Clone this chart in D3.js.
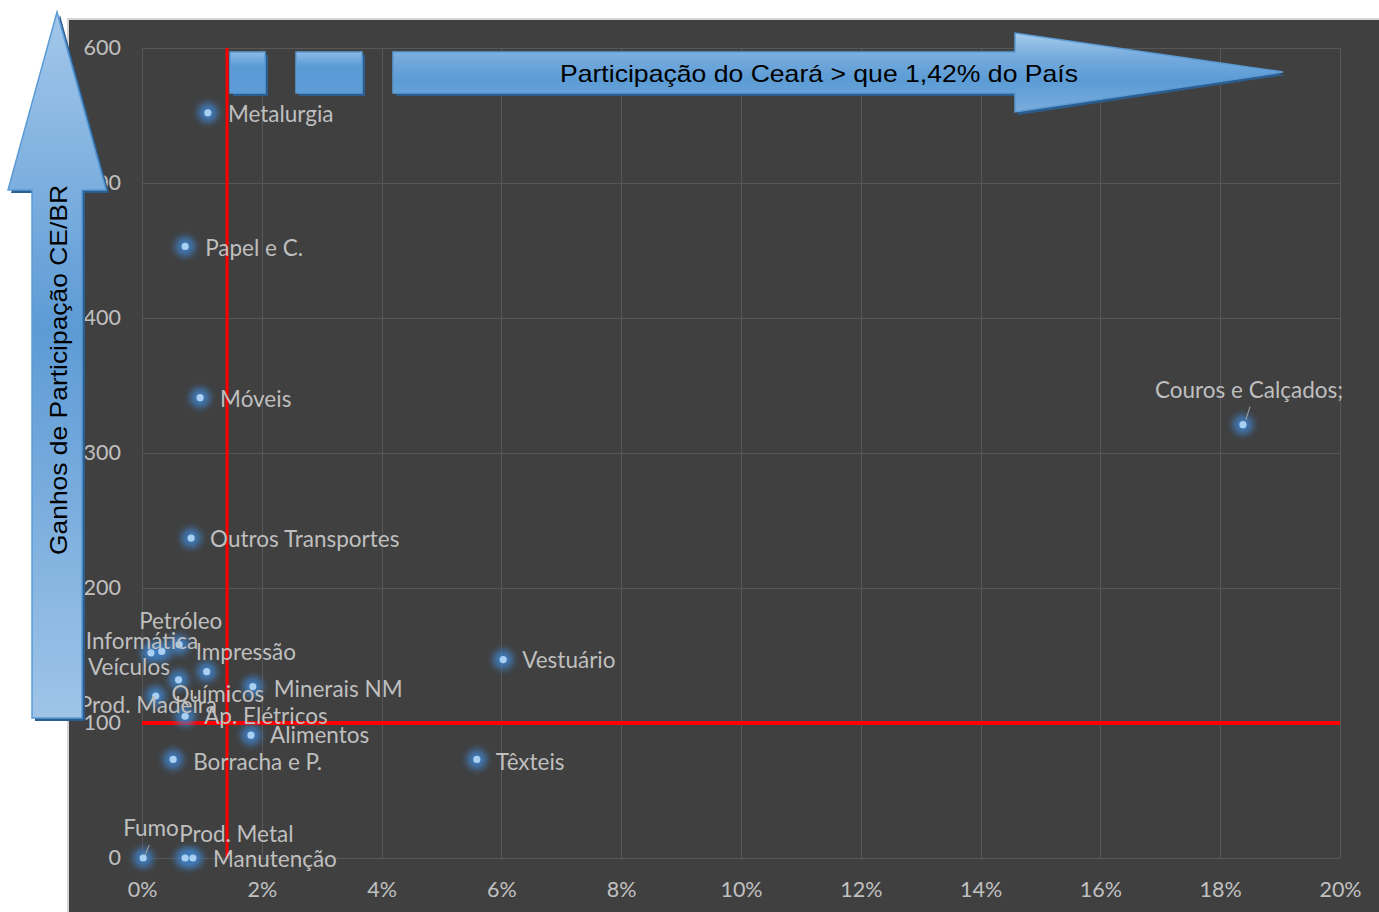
<!DOCTYPE html>
<html>
<head>
<meta charset="utf-8">
<script src="https://cdn.jsdelivr.net/npm/d3@7"></script>
<style>
  html, body { margin: 0; padding: 0; background: #ffffff; }
  svg { display: block; }
</style>
</head>
<body>
<svg id="chart" width="1379" height="912"></svg>
<script>
// Sectors: share of Ceará in national production (x) vs. gains in share CE/BR (y)
const sectors = [
  "Metalurgia", "Papel e C.", "Móveis", "Outros Transportes", "Couros e Calçados;",
  "Vestuário", "Têxteis", "Alimentos", "Borracha e P.", "Minerais NM",
  "Impressão", "Petróleo", "Informática", "Veículos", "Químicos",
  "Prod. Madeira", "Ap. Elétricos", "Fumo", "Prod. Metal", "Manutenção"
];
const participation = [
  0.0110, 0.0072, 0.0097, 0.0082, 0.1838,
  0.0603, 0.0559, 0.0182, 0.0052, 0.0185,
  0.0108, 0.0062, 0.0033, 0.0015, 0.0061,
  0.0023, 0.0072, 0.0002, 0.0072, 0.0085
];
const gains = [
  552, 453, 341, 237, 321,
  147, 73, 91, 73, 127,
  138, 158, 153, 152, 132,
  120, 105, 0, 0, 0
];
const xTicks = [0, 0.02, 0.04, 0.06, 0.08, 0.10, 0.12, 0.14, 0.16, 0.18, 0.20];
const yTicks = [0, 100, 200, 300, 400, 500, 600];
const thresholdX = 0.0142;   // Ceará share of the country
const thresholdY = 100;      // gain reference level
const xArrowText = "Participação do Ceará > que 1,42% do País";
const yArrowText = "Ganhos de Participação CE/BR";

// Label placement relative to each point (layout only)
const labelOffsets = [
  [20, 1], [20, 1], [20, 1], [19, 1], [-88, -35],
  [19, 0], [19, 2], [19, 0], [20, 2], [21, 2],
  [-11, -20], [-40, -24], [-76, -11], [-63, 14], [-7, 14],
  [-77, 9], [19, 0], [-20, -30], [-6, -24], [20, 1]
];
// Leader lines for labels placed away from their points: [index, x1, y1, x2, y2] offsets
const leaders = [
  [4, 3, -5, 7, -18],
  [17, 2, -3, 6, -13]
];

const svg = d3.select("#chart");
const W = 1379, H = 912;

const x = d3.scaleLinear().domain([0, 0.20]).range([142, 1340]);
const y = d3.scaleLinear().domain([0, 600]).range([858, 48]);

const defs = svg.append("defs");
const glow = defs.append("filter").attr("id", "glow")
  .attr("x", "-200%").attr("y", "-200%").attr("width", "500%").attr("height", "500%");
glow.append("feGaussianBlur").attr("stdDeviation", 3.5);

const gUp = defs.append("linearGradient").attr("id", "gradUp")
  .attr("x1", 0).attr("y1", 0).attr("x2", 0).attr("y2", 1);
[[0, "#a3c7ea"], [0.45, "#5d9bd5"], [1, "#9fc4e8"]].forEach(([o, c]) =>
  gUp.append("stop").attr("offset", o).attr("stop-color", c));

const gRight = defs.append("linearGradient").attr("id", "gradRight")
  .attr("x1", 0).attr("y1", 0).attr("x2", 0).attr("y2", 1);
[[0, "#a7cbeb"], [0.3, "#76abdd"], [0.6, "#5b9bd5"], [1, "#7aaddd"]].forEach(([o, c]) =>
  gRight.append("stop").attr("offset", o).attr("stop-color", c));

const gBox = defs.append("linearGradient").attr("id", "gradBox")
  .attr("x1", 0).attr("y1", 0).attr("x2", 0).attr("y2", 1);
[[0, "#8dbbe6"], [0.35, "#5b9bd5"], [1, "#5d9cd6"]].forEach(([o, c]) =>
  gBox.append("stop").attr("offset", o).attr("stop-color", c));

// Chart frame
svg.append("rect").attr("x", 67).attr("y", 18).attr("width", W - 67).attr("height", H - 18)
  .attr("fill", "#d4d4d4");
svg.append("rect").attr("x", 69).attr("y", 20).attr("width", W - 69).attr("height", H - 20)
  .attr("fill", "#404040");

// Gridlines
const grid = svg.append("g").attr("stroke", "#575757").attr("stroke-width", 1);
grid.selectAll("line.h").data(yTicks).join("line").attr("class", "h")
  .attr("x1", x(0)).attr("x2", x(0.20))
  .attr("y1", d => Math.round(y(d)) + 0.5).attr("y2", d => Math.round(y(d)) + 0.5);
grid.selectAll("line.v").data(xTicks).join("line").attr("class", "v")
  .attr("y1", y(0)).attr("y2", y(600))
  .attr("x1", d => Math.round(x(d)) + 0.5).attr("x2", d => Math.round(x(d)) + 0.5);

// Axes (labels only)
const labelFont = "Lato, 'Open Sans', sans-serif";
const xAxis = svg.append("g").attr("transform", `translate(0,${y(0)})`)
  .call(d3.axisBottom(x).tickValues(xTicks).tickFormat(d3.format(".0%")).tickSize(0).tickPadding(24));
const yAxis = svg.append("g").attr("transform", `translate(${x(0)},0)`)
  .call(d3.axisLeft(y).tickValues(yTicks).tickSize(0).tickPadding(21));
[xAxis, yAxis].forEach(a => {
  a.select(".domain").remove();
  a.selectAll("text").attr("fill", "#c0c0c0").style("font-family", labelFont).style("font-size", "21.5px");
});

// Threshold lines
svg.append("line")
  .attr("x1", x(thresholdX)).attr("x2", x(thresholdX))
  .attr("y1", y(600)).attr("y2", y(0))
  .attr("stroke", "#ff0000").attr("stroke-width", 3);
svg.append("line")
  .attr("x1", x(0)).attr("x2", x(0.20))
  .attr("y1", y(thresholdY)).attr("y2", y(thresholdY))
  .attr("stroke", "#ff0000").attr("stroke-width", 4);

// Points with a soft blue halo
const pts = sectors.map((s, i) => ({ s, px: x(participation[i]), py: y(gains[i]), i }));
const pg = svg.append("g");
pg.selectAll("circle.glow").data(pts).join("circle").attr("class", "glow")
  .attr("cx", d => d.px).attr("cy", d => d.py).attr("r", 10)
  .attr("fill", "#3f7fc2").attr("opacity", 0.9).attr("filter", "url(#glow)");
pg.selectAll("circle.dot").data(pts).join("circle").attr("class", "dot")
  .attr("cx", d => d.px).attr("cy", d => d.py).attr("r", 3.6)
  .attr("fill", "#a9cff2");

// Leader lines
svg.append("g").selectAll("line").data(leaders).join("line")
  .attr("x1", d => pts[d[0]].px + d[1]).attr("y1", d => pts[d[0]].py + d[2])
  .attr("x2", d => pts[d[0]].px + d[3]).attr("y2", d => pts[d[0]].py + d[4])
  .attr("stroke", "#a6a6a6").attr("stroke-width", 1);

// Data labels
svg.append("g").selectAll("text").data(pts).join("text")
  .attr("x", d => d.px + labelOffsets[d.i][0])
  .attr("y", d => d.py + labelOffsets[d.i][1])
  .attr("dy", "0.36em")
  .attr("fill", "#bfbfbf")
  .style("font-family", labelFont).style("font-size", "22.5px")
  .text(d => d.s);

// Block arrows
function shadowed(g, pathD, fill) {
  g.append("path").attr("d", pathD).attr("fill", "#2b5d8e").attr("transform", "translate(3,3)");
  g.append("path").attr("d", pathD).attr("fill", fill).attr("stroke", "#5b9bd5").attr("stroke-width", 1.5);
}

const arrows = svg.append("g");
// Two short segments ahead of the horizontal arrow
shadowed(arrows, "M230,52H265V93H230Z", "url(#gradBox)");
shadowed(arrows, "M296,52H362V93H296Z", "url(#gradBox)");
// Horizontal arrow
shadowed(arrows, "M393,52H1015V33L1283,72L1015,112V93H393Z", "url(#gradRight)");
arrows.append("text")
  .attr("x", 819).attr("y", 74).attr("dy", "0.35em").attr("text-anchor", "middle")
  .attr("fill", "#000").style("font-family", "'Liberation Sans', Arial, sans-serif")
  .style("font-size", "24px").attr("textLength", 518).attr("lengthAdjust", "spacingAndGlyphs")
  .text(xArrowText);
// Vertical arrow
shadowed(arrows, "M57,12L106,190H82V718H32V190H8Z", "url(#gradUp)");
arrows.append("text")
  .attr("transform", "translate(59,370) rotate(-90)")
  .attr("dy", "0.35em").attr("text-anchor", "middle")
  .attr("fill", "#000").style("font-family", "'Liberation Sans', Arial, sans-serif")
  .style("font-size", "24px").attr("textLength", 370).attr("lengthAdjust", "spacingAndGlyphs")
  .text(yArrowText);
</script>
</body>
</html>
